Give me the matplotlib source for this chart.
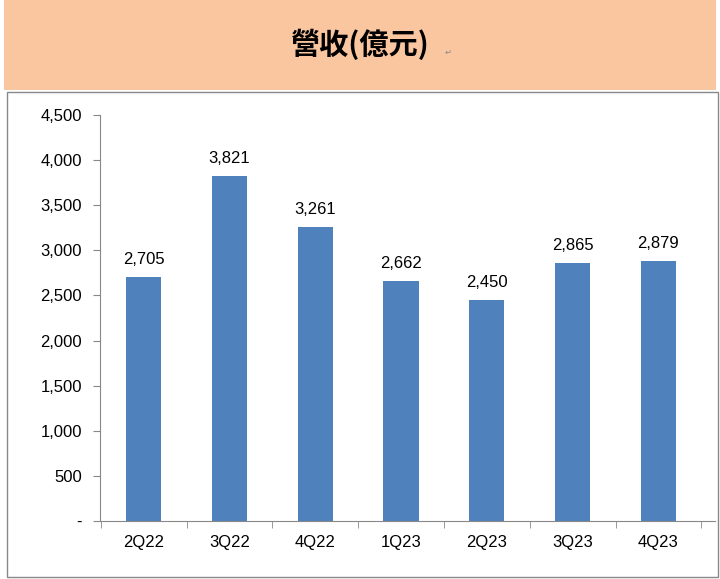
import matplotlib
matplotlib.use("Agg")
import matplotlib.pyplot as plt
from matplotlib.patches import Rectangle

quarters = ["2Q22", "3Q22", "4Q22", "1Q23", "2Q23", "3Q23", "4Q23"]
revenue = [2705, 3821, 3261, 2662, 2450, 2865, 2879]
y_ticks = [0, 500, 1000, 1500, 2000, 2500, 3000, 3500, 4000, 4500]
y_labels = ["-", "500", "1,000", "1,500", "2,000", "2,500", "3,000", "3,500", "4,000", "4,500"]

cjk = ["Noto Sans CJK TC", "Noto Sans CJK JP", "Noto Sans CJK SC", "DejaVu Sans"]

fig = plt.figure(figsize=(7.2, 5.79), dpi=100)
fig.patch.set_facecolor("white")

# header band
fig.patches.append(Rectangle((0.005, 1 - 90 / 579), 0.99, 90 / 579, transform=fig.transFigure,
                             facecolor="#F9C6A0", edgecolor="none"))
fig.text(0.5, 1 - 44 / 579, "營收(億元)", ha="center", va="center", fontsize=21,
         fontweight="bold", fontfamily=cjk)
fig.text(0.618, 1 - 52 / 579, "↵", ha="left", va="center", fontsize=6, color="#888888")

# chart box border
fig.patches.append(Rectangle((7 / 720, 2 / 579), 711 / 720, (579 - 94) / 579, transform=fig.transFigure,
                             facecolor="none", edgecolor="#888888", linewidth=1))

ax = fig.add_axes([100 / 720, 1 - 521 / 579, 615 / 720, (521 - 115) / 579])
x = range(len(quarters))
ax.bar(x, revenue, width=0.41, color="#4F81BD")
for xi, v in zip(x, revenue):
    ax.text(xi, v + 110, f"{v:,}", ha="center", va="bottom", fontsize=12, family="Liberation Sans")

ax.set_xlim(-0.51, 6.66)
ax.set_ylim(0, 4500)
ax.set_yticks(y_ticks)
ax.set_yticklabels(y_labels, fontsize=12, family="Liberation Sans")
ax.set_xticks(list(x))
ax.set_xticklabels(quarters, fontsize=12, family="Liberation Sans")
ax.set_xticks([i + 0.5 for i in range(-1, 7)], minor=True)
ax.tick_params(axis="x", which="major", length=0, pad=10)
ax.tick_params(axis="x", which="minor", length=5, color="#888888", direction="out")
ax.tick_params(axis="y", length=5, color="#888888", pad=8)
for s in ["top", "right"]:
    ax.spines[s].set_visible(False)
for s in ["left", "bottom"]:
    ax.spines[s].set_color("#888888")

fig.savefig("out.png", dpi=100)
